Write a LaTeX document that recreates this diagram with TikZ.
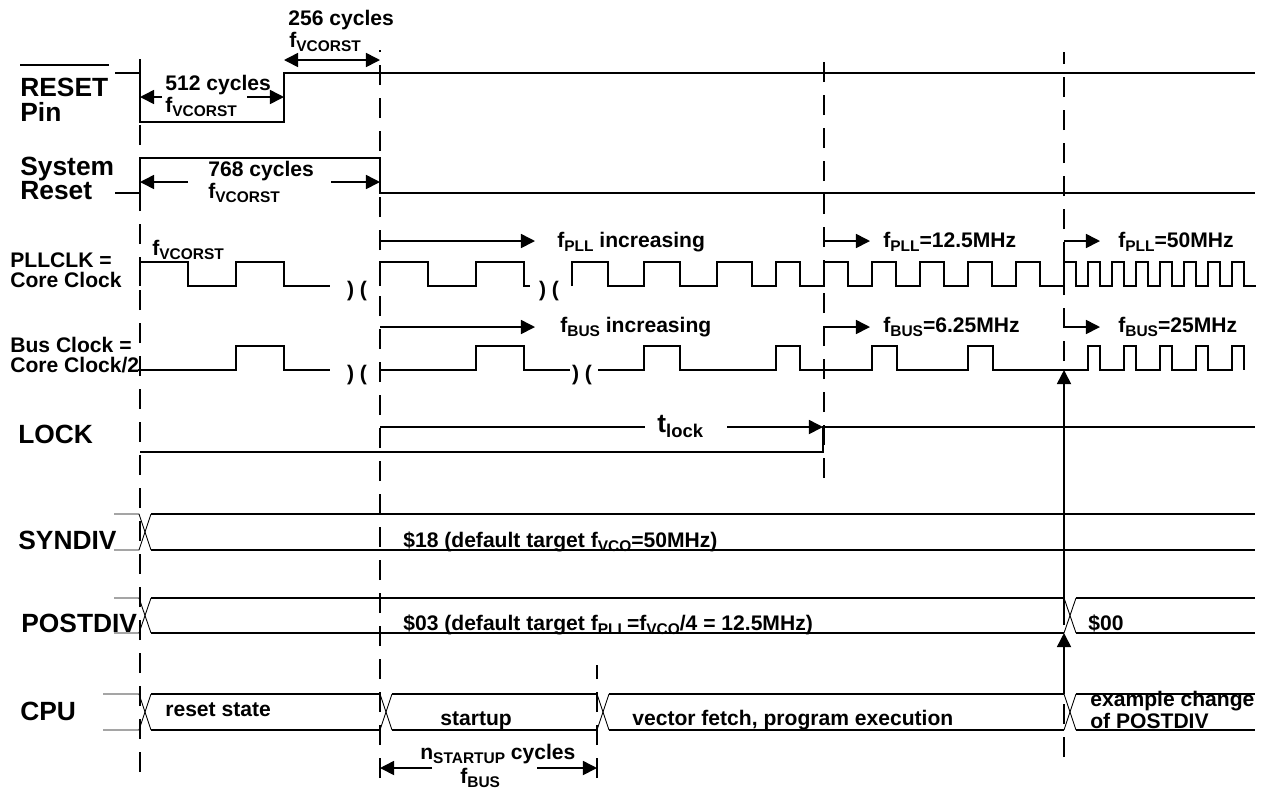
\documentclass[tikz,border=0pt]{standalone}
\usepackage{fontspec}
\setmainfont{Liberation Sans}
\usepackage{tikz}
\usetikzlibrary{arrows.meta}
\newcommand{\lowsub}[1]{\raisebox{-2.8pt}{\fontsize{8.8}{9}\selectfont #1}}

\begin{document}
\begin{tikzpicture}[
    x=0.02cm, y=-0.02cm,
    % waveform, bus and guide line styles
    sig/.style={line width=1.1pt, line join=miter},
    bus/.style={line width=0.8pt},
    xing/.style={line width=0.5pt},
    guide/.style={line width=1.1pt, dash pattern=on 0.4cm off 0.26cm},
    dim/.style={line width=0.9pt, >={Triangle[length=8pt,width=8pt]}},
    % row labels and annotations
    lbl/.style={anchor=base west, inner sep=0pt, font=\fontsize{15}{16}\selectfont\bfseries},
    note/.style={anchor=base west, inner sep=0pt, font=\fontsize{12}{13}\selectfont\bfseries}
]
    \path[fill=white] (0,0) rectangle (1274,789);

    % --- DASHED TIME MARKERS (drawn bottom-up so a dash ends each line) ---
    \foreach \gx/\gtop/\gbot in {140/50/772, 380/50/778, 824/52/478, 1064/52/757, 597/665/778}
        \draw[guide] (\gx,\gbot) -- (\gx,\gtop);

    % --- ROW LABELS ---
    \node[lbl] (lbl-reset) at (20,96) {RESET};
    \node[lbl] (lbl-pin) at (20,121.5) {Pin};
    \draw[sig] ([yshift=0.24cm]lbl-reset.north west) -- ([yshift=0.24cm]lbl-reset.north east);
    \node[lbl] (lbl-sys) at (20,175) {System};
    \node[lbl] (lbl-sysrst) at (20,199) {Reset};
    \node[note] (lbl-pll) at (10,267) {PLLCLK =};
    \node[note] (lbl-core) at (10,287) {Core Clock};
    \node[note] (lbl-bus) at (10,352) {Bus Clock =};
    \node[note] (lbl-core2) at (10,372) {Core Clock/2};
    \node[lbl] (lbl-lock) at (18,443) {LOCK};
    \node[lbl] (lbl-syndiv) at (18,549) {SYNDIV};
    \node[lbl] (lbl-postdiv) at (21,632) {POSTDIV};
    \node[lbl] (lbl-cpu) at (20,720) {CPU};

    % --- RESET PIN AND SYSTEM RESET ---
    \draw[sig] (115,73) -- (140,73) -- (140,122) -- (284,122) -- (284,73) -- (1255,73);
    \draw[sig] (115,193) -- (140,193) -- (140,158) -- (380,158) -- (380,193) -- (1255,193);

    \node[note] (n256) at (288,25) {256 cycles};
    \node[note] (n256f) at (289,47) {f\lowsub{VCORST}};
    \draw[dim, <->] (284,60) -- (380,60);

    \node[note] (n512) at (165,90) {512 cycles};
    \node[note] (n512f) at (165,112) {f\lowsub{VCORST}};
    \draw[dim, ->] (162,97) -- (140,97);
    \draw[dim, ->] (247,97) -- (284,97);

    \node[note] (n768) at (208,176) {768 cycles};
    \node[note] (n768f) at (208,198) {f\lowsub{VCORST}};
    \draw[dim, ->] (188,182) -- (140,182);
    \draw[dim, ->] (331,182) -- (380,182);

    % --- PLLCLK = CORE CLOCK ---
    \node[note] (pll-f0) at (152,255) {f\lowsub{VCORST}};
    \draw[sig] (140,286) -- (140,262) -- (188,262) -- (188,286) -- (236,286) -- (236,262) -- (284,262) -- (284,286) -- (330,286);
    \draw[sig] (380,286) -- (380,262) -- (428,262) -- (428,286) -- (476,286) -- (476,262) -- (524,262) -- (524,286) -- (530,286);
    \draw[sig] (572,286)
        \foreach \a/\b in {572/608, 644/680, 717/752, 776/800} { -- (\a,286) -- (\a,262) -- (\b,262) -- (\b,286) }
        \foreach \k in {0,...,4} { -- (824+48*\k,286) -- (824+48*\k,262) -- (848+48*\k,262) -- (848+48*\k,286) }
        \foreach \k in {0,...,7} { -- (1064+24*\k,286) -- (1064+24*\k,262) -- (1076+24*\k,262) -- (1076+24*\k,286) }
        -- (1256,286);
    \node[note, anchor=base] (brk-pll-1) at (357,296) {) (};
    \node[note, anchor=base] (brk-pll-2) at (549,296) {) (};

    \draw[dim, ->] (380,241) -- (535,241);
    \node[note] (pll-f1) at (557,247) {f\lowsub{PLL} increasing};
    \draw[dim, ->] (824,241) -- (870,241);
    \node[note] (pll-f2) at (883,247) {f\lowsub{PLL}=12.5MHz};
    \draw[dim, ->] (1064,241) -- (1100,241);
    \node[note] (pll-f3) at (1118,247) {f\lowsub{PLL}=50MHz};

    % --- BUS CLOCK = CORE CLOCK/2 ---
    \draw[sig] (138,370) -- (236,370) -- (236,346) -- (284,346) -- (284,370) -- (330,370);
    \draw[sig] (380,370) -- (476,370) -- (476,346) -- (524,346) -- (524,370) -- (570,370);
    \draw[sig] (598,370)
        \foreach \a/\b in {644/680, 776/800, 872/897, 968/993} { -- (\a,370) -- (\a,346) -- (\b,346) -- (\b,370) }
        \foreach \k in {0,...,4} { -- (1088+36*\k,370) -- (1088+36*\k,346) -- (1100+36*\k,346) -- (1100+36*\k,370) };
    \node[note, anchor=base] (brk-bus-1) at (357,380) {) (};
    \node[note, anchor=base] (brk-bus-2) at (582,380) {) (};

    \draw[dim, ->] (380,327) -- (535,327);
    \node[note] (bus-f1) at (560,332) {f\lowsub{BUS} increasing};
    \draw[dim, ->] (824,327) -- (870,327);
    \node[note] (bus-f2) at (883,332) {f\lowsub{BUS}=6.25MHz};
    \draw[dim, ->] (1064,327) -- (1100,327);
    \node[note] (bus-f3) at (1118,332) {f\lowsub{BUS}=25MHz};

    % --- LOCK ---
    \draw[sig] (140,452) -- (823,452) -- (823,427) -- (1255,427);
    \node[anchor=base west, inner sep=0pt, font=\fontsize{15}{16}\selectfont\bfseries] (tlock) at (657,432)
        {t\raisebox{-3pt}{\fontsize{10.5}{11}\selectfont lock}};
    \draw[dim] (380,427) -- (645,427);
    \draw[dim, ->] (727,427) -- (823,427);

    % --- BUSES: SYNDIV, POSTDIV, CPU ---
    \foreach \yt/\yb/\xs in {514/550/114, 598/633/114, 694/730/103} {
        \draw[xing] (\xs,\yt) -- (139,\yt) -- (151,\yb);
        \draw[xing] (\xs,\yb) -- (139,\yb) -- (151,\yt);
    }
    \foreach \yt/\yb/\xc in {598/633/1064, 694/730/380, 694/730/597, 694/730/1064} {
        \draw[xing] (\xc,\yt) -- (\xc+12,\yb);
        \draw[xing] (\xc,\yb) -- (\xc+12,\yt);
    }
    \foreach \yt/\yb/\xa/\xb in {514/550/151/1255, 598/633/151/1064, 598/633/1076/1255,
                                 694/730/151/380, 694/730/392/597, 694/730/609/1064, 694/730/1076/1255} {
        \draw[bus] (\xa,\yt) -- (\xb,\yt);
        \draw[bus] (\xa,\yb) -- (\xb,\yb);
    }

    \node[note] (syn-val) at (403,547) {\$18 (default target f\lowsub{VCO}=50MHz)};
    \node[note] (post-val) at (403,630) {\$03 (default target f\lowsub{PLL}=f\lowsub{VCO}/4 = 12.5MHz)};
    \node[note] (post-new) at (1088,630) {\$00};
    \node[note] (cpu-rst) at (165,716) {reset state};
    \node[note] (cpu-start) at (440,725) {startup};
    \node[note] (cpu-run) at (632,725) {vector fetch, program execution};
    \node[note] (cpu-chg1) at (1090,706) {example change};
    \node[note] (cpu-chg2) at (1090,728) {of POSTDIV};

    % --- POSTDIV CHANGE MARKER ---
    \coordinate (chg) at (1064,694);
    \coordinate (chg-div) at (1064,633);
    \coordinate (chg-mid) at (1064,615);
    \coordinate (chg-bus) at (1064,370);
    \draw[dim, ->] (chg) -- (chg-div);
    \draw[dim, ->] (chg-mid) -- (chg-bus);

    % --- STARTUP LENGTH ---
    \node[note] (nstart) at (420,759) {n\lowsub{STARTUP} cycles};
    \node[note] (nstart-f) at (460,783) {f\lowsub{BUS}};
    \draw[dim, ->] (432,768) -- (380,768);
    \draw[dim, ->] (537,768) -- (597,768);
\end{tikzpicture}
\end{document}
